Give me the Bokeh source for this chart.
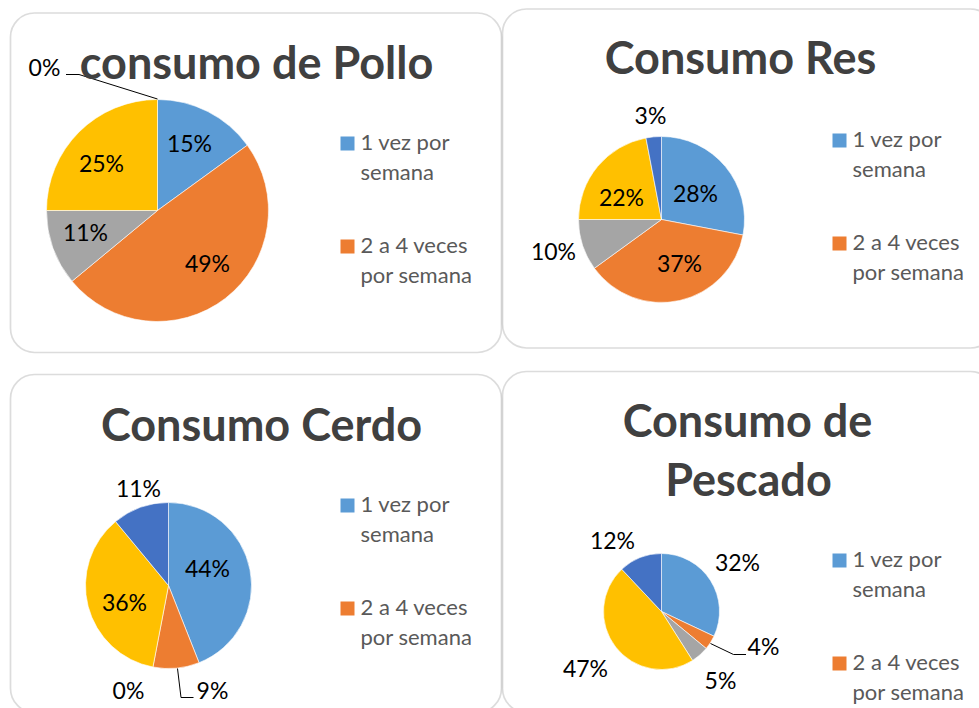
import math
from bokeh.plotting import figure
from bokeh.models import Range1d, BoxAnnotation, ColumnDataSource
from bokeh.core.properties import value
from bokeh.embed import file_html
from bokeh.resources import INLINE

# ---------------- data ----------------
categories = ["1 vez por semana", "2 a 4 veces por semana", "Categoría 3", "Categoría 4", "Categoría 5"]
legend_lines = [["1 vez por", "semana"], ["2 a 4 veces", "por semana"]]

pollo_values = [15, 49, 11, 25, 0]
res_values = [28, 37, 10, 22, 3]
cerdo_values = [44, 9, 0, 36, 11]
pescado_values = [32, 4, 5, 47, 12]

titles = [["consumo de Pollo"], ["Consumo Res"], ["Consumo Cerdo"], ["Consumo de", "Pescado"]]

# ---------------- styles / layout ----------------
colors = ["#5B9BD5", "#ED7D31", "#A5A5A5", "#FFC000", "#4472C4"]
TITLE_COLOR = "#404040"
LEGEND_COLOR = "#595959"
FONT = "Lato"
SMALL_SHIFT = 9     # renderer baseline correction for 22px text
BIG_SHIFT = 17      # renderer baseline correction for 45px text

W, H = 979, 708
p = figure(width=W, height=H, x_range=Range1d(0, W), y_range=Range1d(-H, 0),
           output_backend="svg", toolbar_location=None, min_border=0,
           x_axis_location=None, y_axis_location=None, tools="")
p.xgrid.visible = False
p.ygrid.visible = False
p.outline_line_color = None
p.background_fill_color = "white"
p.border_fill_color = "white"

# panel frames (left, right, top, bottom) in page pixels
panels = [(10, 501, 12.5, 352), (502, 994, 8.5, 347.5), (10, 501, 374, 712), (502, 994, 371, 712)]
for (l, r, t, b) in panels:
    p.add_layout(BoxAnnotation(left=l, right=r, top=-t, bottom=-b, fill_alpha=0,
                               line_color="#8c8c8c", line_width=1.7, border_radius=24,
                               level="underlay"))

charts = [
    dict(values=pollo_values, title=titles[0], cx=157, cy=210, r=111,
         labels=[(189, 143), (207, 263), (85, 232), (101, 163), (44, 67)],
         title_pos=[(256, 78)], legend=(340, 136, 360),
         leaders=[[(65.5, 74), (78.5, 74), (157, 98.5)]]),
    dict(values=res_values, title=titles[1], cx=661, cy=219, r=83,
         labels=[(695, 193), (679, 263), (553, 251), (621, 197), (650, 115)],
         title_pos=[(740, 73)], legend=(832, 133, 852), leaders=[]),
    dict(values=cerdo_values, title=titles[2], cx=168, cy=585, r=83,
         labels=[(207, 568), (212, 690), (128, 690), (124, 602), (138, 488)],
         title_pos=[(261, 440)], legend=(340, 498, 360),
         leaders=[[(193, 697), (180.5, 697), (177, 668)]]),
    dict(values=pescado_values, title=titles[3], cx=661, cy=611, r=58,
         labels=[(737, 562), (763, 646), (720, 680), (585, 668), (612, 540)],
         title_pos=[(747, 436), (748, 495)], legend=(832, 553, 852),
         leaders=[[(710, 643), (733, 654), (745.5, 654)]]),
]

for ch in charts:
    vals = ch["values"]
    total = float(sum(vals))
    starts, ends, cols = [], [], []
    cum = 0.0
    for v, c in zip(vals, colors):
        if v > 0:
            starts.append(math.pi / 2 - 2 * math.pi * cum / total)
            ends.append(math.pi / 2 - 2 * math.pi * (cum + v) / total)
            cols.append(c)
        cum += v
    src = ColumnDataSource(dict(start=starts, end=ends, color=cols))
    p.wedge(x=ch["cx"], y=-ch["cy"], radius=ch["r"], start_angle="start", end_angle="end",
            direction="clock", fill_color="color", line_color="white", line_width=0.6,
            source=src)

    # data labels
    lx = [pt[0] for pt in ch["labels"]]
    ly = [-(pt[1] + 8.5 - SMALL_SHIFT) for pt in ch["labels"]]
    lt = [f"{v}%" for v in vals]
    p.text(x=lx, y=ly, text=lt, text_font=value(FONT), text_font_size="23px",
           text_align="center", text_baseline="alphabetic", text_color="black")

    # leader lines
    for ld in ch["leaders"]:
        p.line(x=[q[0] for q in ld], y=[-q[1] for q in ld], line_color="black", line_width=1)

    # title
    for line_txt, (tx, ty) in zip(ch["title"], ch["title_pos"]):
        p.text(x=[tx], y=[-(ty - BIG_SHIFT)], text=[line_txt], text_font=value(FONT),
               text_font_size="45px", text_font_style="bold", text_align="center",
               text_baseline="alphabetic", text_color=TITLE_COLOR)

    # legend (only the first two entries are visible in the original)
    sx, sy, tx = ch["legend"]
    for i, lines in enumerate(legend_lines):
        top = sy + 103 * i
        p.rect(x=[sx + 7], y=[-(top + 7)], width=14, height=14, fill_color=colors[i],
               line_color=None)
        for j, txt in enumerate(lines):
            p.text(x=[tx], y=[-(top + 14 + 29.5 * j - SMALL_SHIFT)], text=[txt],
                   text_font=value(FONT), text_font_size="22px", text_align="left",
                   text_baseline="alphabetic", text_color=LEGEND_COLOR)

open("out.html", "w").write(file_html(p, INLINE))
